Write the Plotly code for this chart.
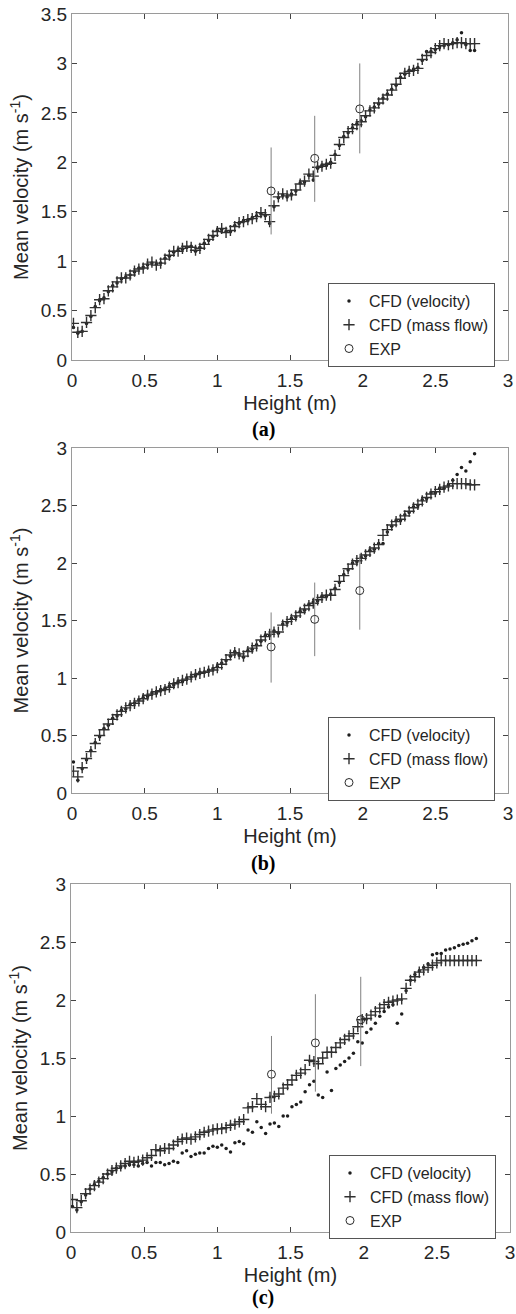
import plotly.graph_objects as go

# heights (m) of the CFD sample points, shared by all three panels
height = [
    0.01, 0.04, 0.07, 0.10, 0.13, 0.16, 0.19, 0.22, 0.25, 0.28,
    0.31, 0.34, 0.37, 0.40, 0.43, 0.46, 0.49, 0.52, 0.55, 0.58,
    0.61, 0.64, 0.67, 0.70, 0.73, 0.76, 0.79, 0.82, 0.85, 0.88,
    0.91, 0.94, 0.97, 1.00, 1.03, 1.06, 1.09, 1.12, 1.15, 1.18,
    1.21, 1.24, 1.27, 1.30, 1.33, 1.36, 1.39, 1.42, 1.45, 1.48,
    1.51, 1.54, 1.57, 1.60, 1.63, 1.66, 1.69, 1.72, 1.75, 1.78,
    1.81, 1.84, 1.87, 1.90, 1.93, 1.96, 1.99, 2.02, 2.05, 2.08,
    2.11, 2.14, 2.17, 2.20, 2.23, 2.26, 2.29, 2.32, 2.35, 2.38,
    2.41, 2.44, 2.47, 2.50, 2.53, 2.56, 2.59, 2.62, 2.65, 2.68,
    2.71, 2.74, 2.77,
]

# panel (a)
vel_a = [
    0.33, 0.27, 0.29, 0.37, 0.44, 0.54, 0.60, 0.63, 0.69, 0.75,
    0.78, 0.82, 0.84, 0.86, 0.89, 0.93, 0.94, 0.96, 0.98, 0.97,
    0.98, 1.03, 1.05, 1.09, 1.11, 1.12, 1.14, 1.15, 1.10, 1.14,
    1.18, 1.21, 1.25, 1.31, 1.32, 1.30, 1.30, 1.36, 1.38, 1.41,
    1.41, 1.44, 1.46, 1.48, 1.46, 1.38, 1.55, 1.64, 1.67, 1.65,
    1.68, 1.71, 1.79, 1.80, 1.87, 1.82, 1.94, 1.97, 1.97, 2.00,
    2.08, 2.17, 2.26, 2.30, 2.35, 2.39, 2.42, 2.46, 2.53, 2.56,
    2.59, 2.65, 2.69, 2.74, 2.78, 2.86, 2.89, 2.93, 2.94, 2.96,
    3.03, 3.12, 3.12, 3.14, 3.17, 3.18, 3.19, 3.21, 3.24, 3.31,
    3.19, 3.13, 3.13,
]
mass_a = [
    0.37, 0.28, 0.29, 0.38, 0.45, 0.53, 0.61, 0.62, 0.70, 0.74,
    0.79, 0.83, 0.83, 0.86, 0.90, 0.92, 0.93, 0.97, 0.99, 0.96,
    0.98, 1.02, 1.06, 1.10, 1.10, 1.13, 1.15, 1.14, 1.11, 1.13,
    1.17, 1.22, 1.26, 1.30, 1.33, 1.29, 1.31, 1.35, 1.39, 1.40,
    1.42, 1.43, 1.45, 1.49, 1.47, 1.40, 1.56, 1.65, 1.68, 1.66,
    1.67, 1.72, 1.78, 1.81, 1.88, 1.86, 1.95, 1.96, 1.98, 1.99,
    2.07, 2.18, 2.25, 2.31, 2.34, 2.38, 2.41, 2.47, 2.52, 2.55,
    2.60, 2.64, 2.68, 2.73, 2.79, 2.85, 2.90, 2.92, 2.93, 2.95,
    3.04, 3.08, 3.11, 3.15, 3.18, 3.20, 3.19, 3.20, 3.21, 3.21,
    3.20, 3.20, 3.20,
]

# panel (b)
vel_b = [
    0.27, 0.11, 0.21, 0.29, 0.37, 0.44, 0.49, 0.56, 0.59, 0.65,
    0.67, 0.72, 0.73, 0.77, 0.78, 0.81, 0.83, 0.84, 0.87, 0.87,
    0.90, 0.91, 0.93, 0.94, 0.97, 0.97, 1.00, 1.01, 1.02, 1.05,
    1.05, 1.07, 1.08, 1.10, 1.13, 1.15, 1.19, 1.23, 1.20, 1.18,
    1.24, 1.25, 1.29, 1.32, 1.37, 1.37, 1.41, 1.39, 1.47, 1.48,
    1.52, 1.53, 1.58, 1.59, 1.64, 1.66, 1.67, 1.71, 1.71, 1.73,
    1.78, 1.83, 1.90, 1.94, 2.00, 2.01, 2.05, 2.06, 2.11, 2.12,
    2.17, 2.17, 2.27, 2.32, 2.37, 2.37, 2.42, 2.44, 2.49, 2.50,
    2.55, 2.56, 2.61, 2.61, 2.65, 2.65, 2.68, 2.72, 2.77, 2.83,
    2.80, 2.88, 2.95,
]
mass_b = [
    0.19, 0.14, 0.22, 0.30, 0.36, 0.43, 0.50, 0.55, 0.60, 0.64,
    0.68, 0.71, 0.74, 0.76, 0.78, 0.80, 0.82, 0.85, 0.86, 0.88,
    0.89, 0.90, 0.92, 0.95, 0.96, 0.98, 0.99, 1.01, 1.03, 1.04,
    1.05, 1.06, 1.07, 1.09, 1.12, 1.16, 1.20, 1.22, 1.21, 1.19,
    1.23, 1.26, 1.28, 1.33, 1.36, 1.38, 1.40, 1.40, 1.46, 1.49,
    1.51, 1.54, 1.57, 1.60, 1.63, 1.65, 1.68, 1.70, 1.72, 1.72,
    1.77, 1.84, 1.89, 1.95, 1.99, 2.02, 2.04, 2.07, 2.10, 2.13,
    2.16, 2.24, 2.29, 2.33, 2.36, 2.38, 2.41, 2.45, 2.48, 2.51,
    2.54, 2.57, 2.60, 2.62, 2.64, 2.66, 2.67, 2.69, 2.69, 2.69,
    2.69, 2.68, 2.68,
]

# panel (c)
vel_c = [
    0.22, 0.19, 0.26, 0.32, 0.37, 0.41, 0.44, 0.47, 0.50, 0.52,
    0.55, 0.56, 0.57, 0.58, 0.58, 0.57, 0.59, 0.60, 0.57, 0.60,
    0.60, 0.58, 0.59, 0.61, 0.60, 0.68, 0.70, 0.65, 0.67, 0.68,
    0.68, 0.72, 0.74, 0.73, 0.75, 0.72, 0.69, 0.77, 0.78, 0.76,
    0.88, 0.86, 0.95, 0.90, 0.85, 0.93, 0.94, 0.91, 1.00, 1.00,
    1.08, 1.10, 1.12, 1.21, 1.27, 1.30, 1.18, 1.16, 1.38, 1.22,
    1.41, 1.44, 1.47, 1.50, 1.54, 1.64, 1.63, 1.72, 1.75, 1.80,
    1.86, 1.90, 1.94, 1.96, 1.80, 1.88, 2.08, 2.17, 2.22, 2.25,
    2.28, 2.31, 2.39, 2.40, 2.40, 2.43, 2.44, 2.45, 2.47, 2.48,
    2.49, 2.51, 2.53,
]
mass_c = [
    0.28, 0.21, 0.27, 0.33, 0.37, 0.40, 0.43, 0.46, 0.50, 0.53,
    0.55, 0.57, 0.59, 0.61, 0.60, 0.61, 0.62, 0.64, 0.66, 0.71,
    0.70, 0.72, 0.72, 0.75, 0.78, 0.80, 0.81, 0.80, 0.82, 0.84,
    0.86, 0.87, 0.88, 0.89, 0.89, 0.90, 0.92, 0.93, 0.95, 0.97,
    1.07, 1.08, 1.15, 1.10, 1.08, 1.16, 1.17, 1.19, 1.24, 1.27,
    1.31, 1.35, 1.37, 1.40, 1.48, 1.47, 1.45, 1.50, 1.55, 1.55,
    1.59, 1.63, 1.66, 1.69, 1.71, 1.77, 1.83, 1.84, 1.87, 1.90,
    1.93, 1.96, 1.98, 1.99, 2.00, 2.01, 2.10, 2.17, 2.20, 2.24,
    2.26, 2.28, 2.30, 2.32, 2.34, 2.34, 2.34, 2.34, 2.34, 2.34,
    2.34, 2.34, 2.34,
]

# experiments: mean with upper / lower end of the error bar
exp_height = [1.37, 1.67, 1.98]
exp_a = [1.71, 2.04, 2.54]
exp_a_hi = [2.15, 2.47, 3.00]
exp_a_lo = [1.27, 1.60, 2.09]
exp_b = [1.27, 1.51, 1.76]
exp_b_hi = [1.57, 1.83, 2.08]
exp_b_lo = [0.96, 1.19, 1.42]
exp_c = [1.36, 1.63, 1.83]
exp_c_hi = [1.69, 2.05, 2.20]
exp_c_lo = [1.02, 1.21, 1.43]

panel_labels = ["(a)", "(b)", "(c)"]
y_max = [3.5, 3, 3]

W, H = 516, 1314
SANS = "Liberation Sans, Arial, Helvetica, sans-serif"
TXT = "#262626"

# pixel boxes of the three axes: (left, right, top, bottom)
boxes = [(72, 508, 14, 360), (72, 508, 448, 793), (71, 510, 884, 1232)]
legend_left = [328, 328, 329]
legend_top = [283, 717, 1155]
label_y = [430, 863, 1297]
label_x = 263


def px_x(p):
    return p / W


def px_y(p):
    return 1 - p / H


panels = [
    (vel_a, mass_a, exp_a, exp_a_hi, exp_a_lo),
    (vel_b, mass_b, exp_b, exp_b_hi, exp_b_lo),
    (vel_c, mass_c, exp_c, exp_c_hi, exp_c_lo),
]

fig = go.Figure()
layout = dict(
    width=W, height=H, template="none",
    margin=dict(l=0, r=0, t=0, b=0),
    paper_bgcolor="white", plot_bgcolor="white",
    font=dict(family=SANS, color=TXT),
    annotations=[],
)

for i, (vel, mass, ex, ex_hi, ex_lo) in enumerate(panels):
    n = "" if i == 0 else str(i + 1)
    leg = "legend" + n
    l, r, t, b = boxes[i]

    fig.add_trace(go.Scatter(
        x=height, y=vel, mode="markers", name="CFD (velocity)",
        xaxis="x" + n, yaxis="y" + n, legend=leg,
        marker=dict(symbol="circle", size=3.5, color="#1e1e1e"),
    ))
    fig.add_trace(go.Scatter(
        x=height, y=mass, mode="markers", name="CFD (mass flow)",
        xaxis="x" + n, yaxis="y" + n, legend=leg,
        marker=dict(symbol="cross-thin", size=8, color="#303030",
                    line=dict(width=1.4, color="#303030")),
    ))
    fig.add_trace(go.Scatter(
        x=exp_height, y=ex, mode="markers", name="EXP",
        xaxis="x" + n, yaxis="y" + n, legend=leg,
        marker=dict(symbol="circle-open", size=8, color="#2a2a2a",
                    line=dict(width=1, color="#2a2a2a")),
        error_y=dict(type="data", symmetric=False,
                     array=[h - m for h, m in zip(ex_hi, ex)],
                     arrayminus=[m - lo for m, lo in zip(ex, ex_lo)],
                     width=0, thickness=1, color="#808080"),
    ))

    axis_common = dict(
        showgrid=False, zeroline=False, showline=True, linecolor="#9a9a9a",
        linewidth=1, mirror="ticks", ticks="inside", ticklen=5,
        tickcolor="#444444", tickwidth=1, dtick=0.5, tick0=0,
        tickfont=dict(size=19, color=TXT, family=SANS),
    )
    layout["xaxis" + n] = dict(
        axis_common, domain=[px_x(l), px_x(r)], range=[0, 3], anchor="y" + n,
        ticklabelstandoff=3,
        title=dict(text="Height (m)", font=dict(size=20, color=TXT, family=SANS), standoff=6),
    )
    layout["yaxis" + n] = dict(
        axis_common, domain=[px_y(b), px_y(t)], range=[0, y_max[i]], anchor="x" + n,
        title=dict(text="Mean velocity (m s<sup>-1</sup>)",
                   font=dict(size=20, color=TXT, family=SANS), standoff=6),
    )
    layout[leg] = dict(
        x=px_x(legend_left[i]), y=px_y(legend_top[i]), xanchor="left", yanchor="top",
        bgcolor="white", bordercolor="#555555", borderwidth=1,
        font=dict(size=16, color=TXT, family=SANS),
    )
    layout["annotations"].append(dict(
        text="<b>" + panel_labels[i] + "</b>", xref="paper", yref="paper",
        x=px_x(label_x), y=px_y(label_y[i]), showarrow=False,
        xanchor="center", yanchor="middle",
        font=dict(family="Liberation Serif, Times New Roman, serif", size=20, color="black"),
    ))

fig.update_layout(**layout)
# drop the default 8px body margin so the figure sits at the page corner
fig.write_html("out.html", config={"displayModeBar": False},
               post_script="document.body.style.margin='0px';")
